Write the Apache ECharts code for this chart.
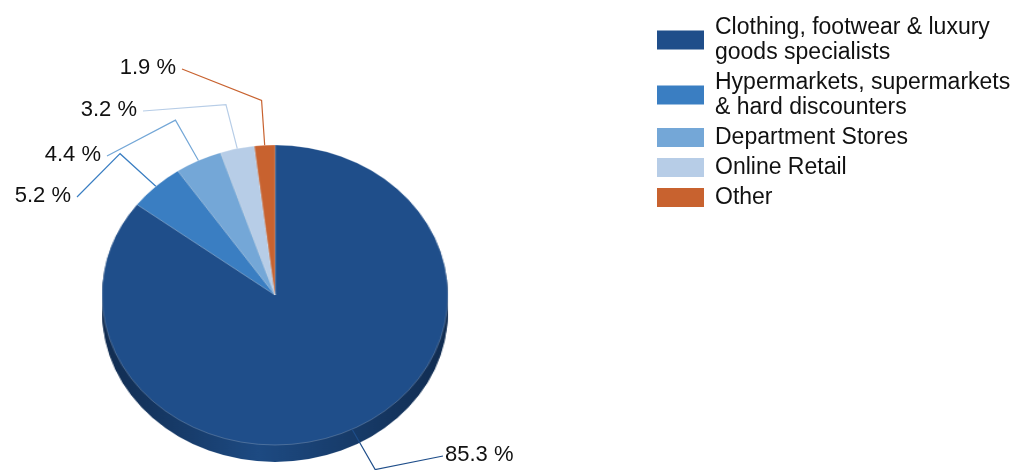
<!DOCTYPE html>
<html><head><meta charset="utf-8">
<script src="https://cdn.jsdelivr.net/npm/echarts@6/dist/echarts.min.js"></script>
<style>
html,body{margin:0;padding:0;background:#fff}
#wrap{position:relative;width:1021px;height:470px;overflow:hidden}
#pie,#top{position:absolute;left:0;top:0;width:1021px;height:470px}
#pie{transform-origin:275px 295px;transform:scaleX(1.153)}
</style></head><body>
<div id="wrap"><div id="pie"></div><div id="top"></div></div>
<script>
const categories = [
  'Clothing, footwear & luxury\ngoods specialists',
  'Hypermarkets, supermarkets\n& hard discounters',
  'Department Stores',
  'Online Retail',
  'Other'
];
const shares = [85.3, 5.2, 4.4, 3.2, 1.9];
const colors = ['#1f4e8a', '#3a7ec2', '#74a7d7', '#b7cde7', '#c8622f'];
const sideColors = ['#173c6b', '#2b5f93', '#5680a8', '#8aa0b6', '#974923'];
const labelTexts = shares.map(v => v.toFixed(1) + ' %');

const CX = 275, CY = 295, R = 150, SX = 1.153;
// label anchor positions (layout only)
const labelAnchor = [[445, 455], [71, 196], [101, 155], [137, 110], [176, 68]];

const pieChart = echarts.init(document.getElementById('pie'), null, {renderer: 'canvas'});
const series = [];
for (let off = 17; off >= 1; off -= 2) {
  series.push({
    type: 'pie', center: [CX, CY + off], radius: R, startAngle: 90, silent: true,
    label: {show: false}, labelLine: {show: false}, animation: false,
    data: shares.map((v, i) => ({value: v, name: categories[i],
      itemStyle: {color: i === 0 ? new echarts.graphic.LinearGradient(0, 0, 1, 0, [
        {offset: 0, color: '#112c50'}, {offset: 0.45, color: '#1d4a82'}, {offset: 1, color: '#112c50'}]) : sideColors[i]}}))
  });
}
series.push({
  type: 'pie', center: [CX, CY], radius: R, startAngle: 90, silent: true,
  label: {show: false}, labelLine: {show: false}, animation: false,
  itemStyle: {borderColor: 'rgba(255,255,255,0.35)', borderWidth: 0.6},
  data: shares.map((v, i) => ({value: v, name: categories[i], itemStyle: {color: colors[i]}}))
});
pieChart.setOption({animation: false, series});

const topChart = echarts.init(document.getElementById('top'), null, {renderer: 'canvas'});
topChart.setOption({
  animation: false,
  legend: {
    orient: 'vertical', left: 657, top: 15, padding: 0, itemGap: 5,
    itemWidth: 47, itemHeight: 19, icon: 'rect', selectedMode: false,
    textStyle: {fontFamily: 'Liberation Sans, Arial, sans-serif', fontSize: 23, lineHeight: 25,
      color: '#111', padding: [0, 0, 0, 6]},
    data: categories.map((c, i) => ({name: c, itemStyle: {color: colors[i]}}))
  },
  series: [{
    type: 'pie', center: [CX, CY], radius: R, startAngle: 90, silent: true,
    avoidLabelOverlap: false,
    itemStyle: {color: 'rgba(0,0,0,0)'},
    label: {show: true, position: 'outside', color: '#111', fontSize: 22,
      fontFamily: 'Liberation Sans, Arial, sans-serif',
      formatter: p => labelTexts[p.dataIndex]},
    labelLine: {show: true, length: 45, length2: 20, smooth: false, lineStyle: {width: 1.2}},
    labelLayout: function (p) {
      const i = p.dataIndex;
      const pts = p.labelLinePoints;
      const a = labelAnchor[i];
      const left = a[0] < CX;
      const sx = x => CX + (x - CX) * SX;
      const p0 = [sx(pts[0][0]), pts[0][1]];
      const p1 = [sx(pts[1][0]), pts[1][1]];
      const p2 = [left ? a[0] + 6 : a[0] - 2, a[1] + 1];
      return {x: a[0], y: a[1], align: left ? 'right' : 'left', verticalAlign: 'middle',
        labelLinePoints: [p0, p1, p2]};
    },
    data: shares.map((v, i) => ({value: v, name: categories[i],
      labelLine: {lineStyle: {color: colors[i]}}}))
  }]
});
</script>
</body></html>
